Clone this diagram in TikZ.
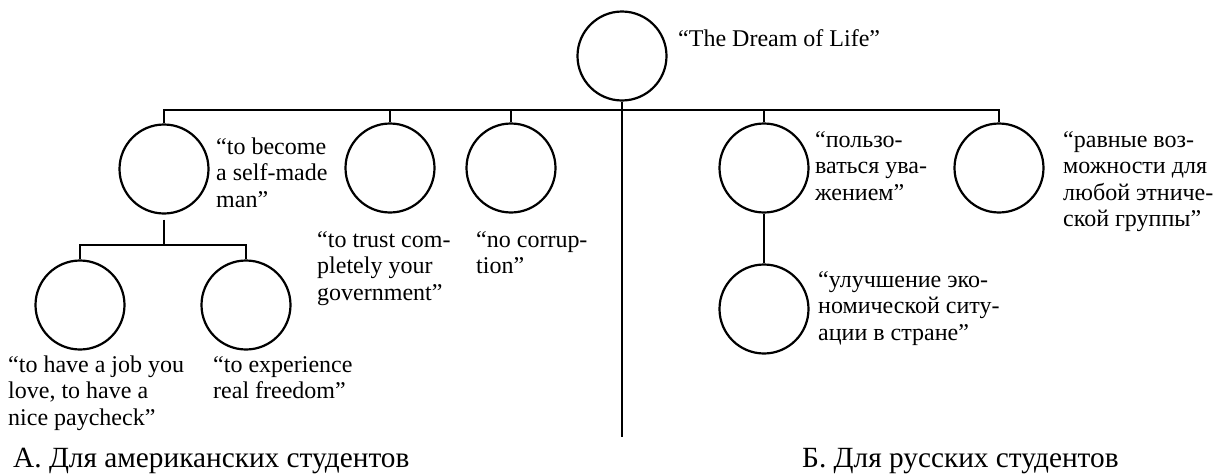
\documentclass[tikz,border=0pt]{standalone}
\usepackage{fontspec}
\setmainfont{Liberation Serif}
\begin{document}
\begin{tikzpicture}[x=1pt,y=-1pt,
  circ/.style={draw,circle,line width=2.2pt,minimum size=89pt,inner sep=0pt},
  lbl/.style={anchor=base west,inner sep=0pt,align=left,font=\fontsize{24}{26.5}\selectfont},
  caption/.style={anchor=base west,inner sep=0pt,font=\fontsize{29.3}{32}\selectfont},
  conn/.style={line width=2.2pt}]
\useasboundingbox (0,0) rectangle (1219,474);
% circles
\node[circ] (D) at (622,56) {};
\node[circ] (c1) at (164,169) {};
\node[circ] (c2) at (390,168) {};
\node[circ] (c3) at (511,168) {};
\node[circ] (c4) at (764,168) {};
\node[circ] (c5) at (999,168) {};
\node[circ] (c6) at (764,309) {};
\node[circ] (c7) at (80,305) {};
\node[circ] (c8) at (246,305) {};
% helper coordinates
\coordinate (bar) at (0,110);
\coordinate (sub) at (0,245);
\coordinate (trunkend) at (622,437);
% connectors
\draw[conn] (D.south) -- (trunkend);
\draw[conn] (c1.north) -- (c1.north |- bar) -- (c5.north |- bar) -- (c5.north);
\draw[conn] (c2.north) -- (c2.north |- bar);
\draw[conn] (c3.north) -- (c3.north |- bar);
\draw[conn] (c4.north) -- (c4.north |- bar);
\draw[conn,shorten <=5pt] (c1.south) -- (c1.south |- sub);
\draw[conn] (c7.north) -- (c7.north |- sub) -- (c8.north |- sub) -- (c8.north);
\draw[conn] (c4.south) -- (c6.north);
% labels (base = baseline of last line)
\node[lbl] (tD) at (678,46) {“The Dream of Life”};
\node[lbl] (t1) at (216,207) {“to become\\a self-made\\man”};
\node[lbl] (t2) at (317,300) {“to trust com-\\pletely your\\government”};
\node[lbl] (t3) at (476,273.5) {“no corrup-\\tion”};
\node[lbl] (t4) at (815,200) {“пользо-\\ваться ува-\\жением”};
\node[lbl] (t5) at (1063,226.5) {“равные воз-\\можности для\\любой этниче-\\ской группы”};
\node[lbl] (t6) at (818,340) {“улучшение эко-\\номической ситу-\\ации в стране”};
\node[lbl] (t7) at (8,425) {“to have a job you\\love, to have a\\nice paycheck”};
\node[lbl] (t8) at (213,398.5) {“to experience\\real freedom”};
\node[caption] (capA) at (13,467) {А. Для американских студентов};
\node[caption] (capB) at (802,467) {Б. Для русских студентов};
\end{tikzpicture}
\end{document}
